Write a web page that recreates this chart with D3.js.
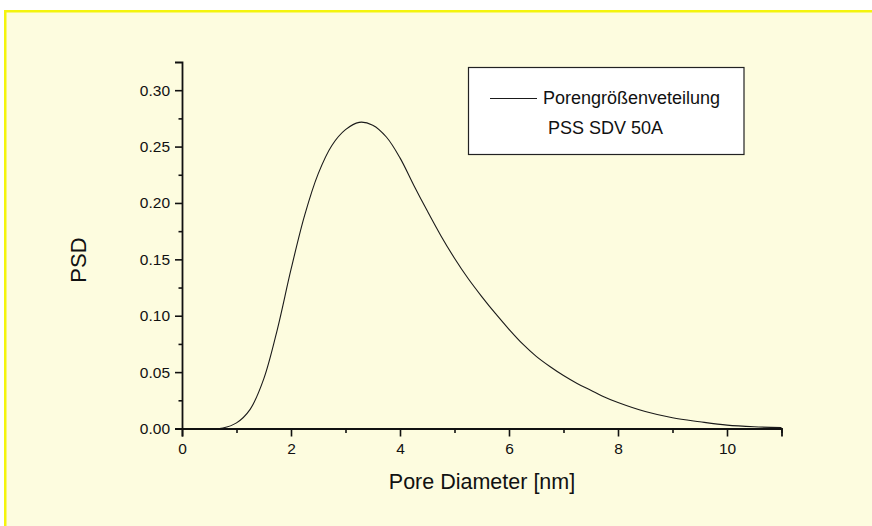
<!DOCTYPE html>
<html>
<head>
<meta charset="utf-8">
<script src="https://cdn.jsdelivr.net/npm/d3@7"></script>
<style>
  body { margin: 0; background: #fff; }
  svg { display: block; font-family: "Liberation Sans", Arial, sans-serif; }
</style>
</head>
<body>
<div id="chart"></div>
<script>
// pore diameter [nm]
const diameters = [0, 0.5, 0.75, 1.0, 1.25, 1.5, 1.75, 2.0, 2.25, 2.5, 2.75, 3.0, 3.25, 3.5, 3.75, 4.0,
  4.25, 4.5, 4.75, 5.0, 5.25, 5.5, 5.75, 6.0, 6.25, 6.5, 6.75, 7.0, 7.25, 7.5, 7.75, 8.0,
  8.5, 9.0, 9.5, 10.0, 10.5, 11.0];
// PSD values
const psd = [0, 0, 0.0005, 0.005, 0.017, 0.044, 0.088, 0.141, 0.189, 0.226, 0.251, 0.265, 0.2715, 0.269, 0.2585, 0.240,
  0.216, 0.193, 0.171, 0.151, 0.133, 0.117, 0.102, 0.088, 0.075, 0.064, 0.055, 0.047, 0.040, 0.034, 0.028, 0.023,
  0.015, 0.0095, 0.006, 0.003, 0.0015, 0.0008];

const xMajor = [0, 2, 4, 6, 8, 10];
const xMinor = [1, 3, 5, 7, 9, 11];
const yMajor = [0, 0.05, 0.10, 0.15, 0.20, 0.25, 0.30];
const yMinor = [0.025, 0.075, 0.125, 0.175, 0.225, 0.275];

const legendLines = ["Porengrößenveteilung", "PSS SDV 50A"];

const W = 872, H = 526;
const svg = d3.select("#chart").append("svg").attr("width", W).attr("height", H);

// page background + yellow frame (top and left only)
svg.append("rect").attr("x", 4).attr("y", 10).attr("width", W - 4).attr("height", H - 10).attr("fill", "#fdfcdf");
svg.append("rect").attr("x", 4).attr("y", 10).attr("width", W - 4).attr("height", 2.5).attr("fill", "#f4f40c");
svg.append("rect").attr("x", 4).attr("y", 10).attr("width", 2.5).attr("height", H - 10).attr("fill", "#f4f40c");

const x = d3.scaleLinear().domain([0, 11]).range([182, 781.5]);
const y = d3.scaleLinear().domain([0, 0.325]).range([428.5, 62]);

// curve
const line = d3.line().x((d, i) => x(diameters[i])).y(d => y(d)).curve(d3.curveCatmullRom.alpha(0.5));
svg.append("path").datum(psd)
  .attr("d", line)
  .attr("fill", "none")
  .attr("stroke", "#1a1a1a")
  .attr("stroke-width", 1.1);

// y axis
svg.append("g").attr("transform", `translate(${x(0)},0)`)
  .call(d3.axisLeft(y).tickValues(yMajor).tickFormat(d3.format(".2f")).tickSize(7).tickPadding(5));
svg.append("g").attr("transform", `translate(${x(0)},0)`)
  .call(d3.axisLeft(y).tickValues(yMinor).tickFormat("").tickSize(3.5))
  .select(".domain").remove();

// x axis
svg.append("g").attr("transform", `translate(0,${y(0)})`)
  .call(d3.axisBottom(x).tickValues(xMajor).tickFormat(d3.format("d")).tickSize(8).tickPadding(6));
svg.append("g").attr("transform", `translate(0,${y(0)})`)
  .call(d3.axisBottom(x).tickValues(xMinor).tickFormat("").tickSize(4.5))
  .select(".domain").remove();

svg.selectAll(".domain").attr("stroke", "#111").attr("stroke-width", 1.8);
svg.selectAll(".tick line").attr("stroke", "#111").attr("stroke-width", 1.6);
svg.selectAll(".tick text").attr("fill", "#111").style("font-size", "15.5px").style("font-family", "'Liberation Sans', Arial, sans-serif");

// axis titles
svg.append("text")
  .attr("x", 482).attr("y", 489)
  .attr("text-anchor", "middle")
  .style("font-size", "21.5px").attr("fill", "#111")
  .text("Pore Diameter [nm]");

svg.append("text")
  .attr("transform", "translate(86,260) rotate(-90)")
  .attr("text-anchor", "middle")
  .style("font-size", "22px").attr("fill", "#111")
  .text("PSD");

// legend
const legend = svg.append("g");
legend.append("rect")
  .attr("x", 468.5).attr("y", 67.5).attr("width", 275.5).attr("height", 87)
  .attr("fill", "#fff").attr("stroke", "#222").attr("stroke-width", 1.2);
legend.append("line")
  .attr("x1", 490).attr("x2", 537).attr("y1", 98.5).attr("y2", 98.5)
  .attr("stroke", "#1a1a1a").attr("stroke-width", 1.1);
legend.selectAll("text.lg").data(legendLines).enter().append("text")
  .attr("class", "lg")
  .attr("x", (d, i) => i === 0 ? 543 : 548)
  .attr("y", (d, i) => 103.5 + i * 30)
  .style("font-size", "18px").attr("fill", "#111")
  .text(d => d);
</script>
</body>
</html>
